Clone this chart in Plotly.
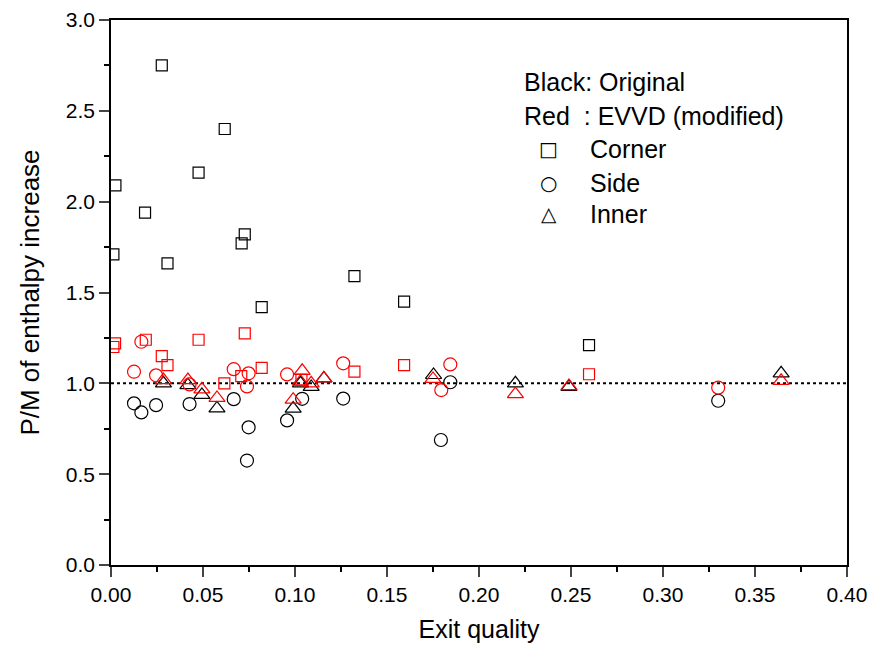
import plotly.graph_objects as go

# Corner (squares)
corner_orig_x = [0.0013, 0.0024, 0.0185, 0.0276, 0.0307, 0.0476, 0.0618, 0.0710, 0.0727, 0.0819, 0.1323, 0.1593, 0.2598]
corner_orig_y = [1.71, 2.09, 1.94, 2.75, 1.66, 2.16, 2.40, 1.77, 1.82, 1.42, 1.59, 1.45, 1.21]
corner_mod_x = [0.0013, 0.0022, 0.0189, 0.0276, 0.0307, 0.0476, 0.0616, 0.0708, 0.0727, 0.0819, 0.1035, 0.1323, 0.1593, 0.2598]
corner_mod_y = [1.20, 1.22, 1.24, 1.15, 1.10, 1.24, 1.00, 1.04, 1.275, 1.085, 1.02, 1.065, 1.10, 1.05]

# Side (circles)
side_orig_x = [0.0125, 0.0165, 0.0245, 0.0427, 0.0667, 0.0739, 0.0748, 0.0957, 0.1039, 0.1262, 0.1793, 0.1844, 0.330]
side_orig_y = [0.89, 0.84, 0.88, 0.886, 0.913, 0.575, 0.758, 0.796, 0.915, 0.916, 0.688, 1.006, 0.904]
side_mod_x = [0.0125, 0.0165, 0.0245, 0.0427, 0.0667, 0.0739, 0.0748, 0.0957, 0.1262, 0.1795, 0.1844, 0.330]
side_mod_y = [1.064, 1.229, 1.044, 0.994, 1.078, 0.983, 1.055, 1.049, 1.11, 0.963, 1.104, 0.976]

# Inner (triangles)
inner_orig_x = [0.0285, 0.0418, 0.0494, 0.0576, 0.099, 0.103, 0.1088, 0.1157, 0.1753, 0.2198, 0.2489, 0.3642]
inner_orig_y = [1.0, 0.99, 0.936, 0.862, 0.861, 1.0, 0.98, 1.027, 1.046, 1.0, 0.98, 1.055]
inner_mod_x = [0.0285, 0.0418, 0.0494, 0.0576, 0.099, 0.1039, 0.103, 0.1088, 0.1157, 0.175, 0.2198, 0.2489, 0.3642]
inner_mod_y = [1.018, 1.018, 0.967, 0.92, 0.91, 1.069, 1.009, 1.0, 1.027, 1.024, 0.941, 0.985, 1.014]

x_ticks = [0.00, 0.05, 0.10, 0.15, 0.20, 0.25, 0.30, 0.35, 0.40]
y_ticks = [0.0, 0.5, 1.0, 1.5, 2.0, 2.5, 3.0]

fig = go.Figure()

def add(x, y, symbol, color, size):
    fig.add_trace(go.Scatter(
        x=x, y=y, mode="markers", showlegend=False,
        marker=dict(symbol=symbol, size=size, color=color,
                    line=dict(color=color, width=1.2)),
    ))

add(corner_orig_x, corner_orig_y, "square-open", "black", 11)
add(side_orig_x, side_orig_y, "circle-open", "black", 13)
add(inner_orig_x, inner_orig_y, "triangle-up-open", "black", 14)
add(corner_mod_x, corner_mod_y, "square-open", "red", 11)
add(side_mod_x, side_mod_y, "circle-open", "red", 13)
add(inner_mod_x, inner_mod_y, "triangle-up-open", "red", 14)

fig.add_shape(type="line", x0=0, x1=0.4, y0=1.0, y1=1.0, xref="x", yref="y",
              line=dict(color="black", width=2, dash="dot"), layer="below")

font = "Liberation Sans, Arial, sans-serif"
ann = [
    ("Black: Original", 0.558, 0.886),
    ("Red  : EVVD (modified)", 0.558, 0.824),
]
for t, xx, yy in ann:
    fig.add_annotation(text=t, x=xx, y=yy, xref="paper", yref="paper",
                       xanchor="left", yanchor="middle", showarrow=False,
                       font=dict(family=font, size=25, color="black"))
items = [("□", "Corner", 0.763), ("○", "Side", 0.701), ("△", "Inner", 0.644)]
for sym, t, yy in items:
    fig.add_annotation(text=sym, x=0.595, y=yy, xref="paper", yref="paper",
                       xanchor="center", yanchor="middle", showarrow=False,
                       font=dict(family="DejaVu Sans", size=20, color="black"))
    fig.add_annotation(text=t, x=0.648, y=yy, xref="paper", yref="paper",
                       xanchor="left", yanchor="middle", showarrow=False,
                       font=dict(family=font, size=25, color="black"))

fig.update_layout(
    width=881, height=649,
    margin=dict(l=103, r=42, t=12, b=92),
    paper_bgcolor="white", plot_bgcolor="white",
    font=dict(family=font, size=21, color="black"),
    xaxis=dict(
        range=[0, 0.4], tickvals=x_ticks, tickformat=".2f", automargin=False,
        showgrid=False, zeroline=False, showline=True, linecolor="black",
        linewidth=1.5, mirror=True, ticks="outside", ticklen=10, tickwidth=1.5,
        minor=dict(dtick=0.025, ticks="outside", ticklen=5, tickwidth=1.5, tickcolor="black"),
        title=dict(text="Exit quality", font=dict(size=25), standoff=16),
        tickfont=dict(size=21),
    ),
    yaxis=dict(
        range=[0, 3.0], tickvals=y_ticks, tickformat=".1f", automargin=False,
        showgrid=False, zeroline=False, showline=True, linecolor="black",
        linewidth=1.5, mirror=True, ticks="outside", ticklen=10, tickwidth=1.5,
        minor=dict(dtick=0.25, ticks="outside", ticklen=5, tickwidth=1.5, tickcolor="black"),
        title=dict(text="P/M of enthalpy increase", font=dict(size=26), standoff=19),
        tickfont=dict(size=21),
    ),
)

fig.write_html("out.html")
